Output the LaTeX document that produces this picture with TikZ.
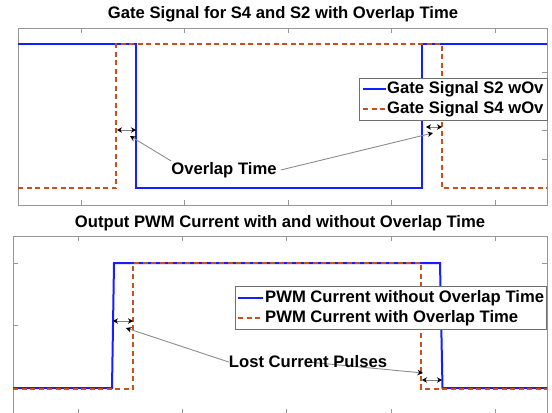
\documentclass[tikz,border=0pt]{standalone}
\usepackage{fontspec}
\setmainfont{Liberation Sans}
\usetikzlibrary{arrows.meta}
\definecolor{sigblue}{RGB}{20,30,255}
\definecolor{sigred}{RGB}{200,80,30}
\definecolor{axgray}{RGB}{150,150,150}
\definecolor{lgdgray}{RGB}{110,110,110}
\begin{document}
\begin{tikzpicture}[x=1bp,y=-1bp,
  axbox/.style={draw=axgray, line width=0.8bp},
  s2/.style={sigblue, line width=2bp},
  s4/.style={sigred, line width=2bp, dash pattern=on 5bp off 3.5bp},
  lgd/.style={draw=lgdgray, fill=white, line width=0.9bp},
  lbl/.style={font=\fontsize{16.7}{19}\selectfont\bfseries, inner sep=0pt},
  gap/.style={draw=gray, line width=0.9bp,
    {Stealth[black,length=5bp,width=5.5bp]}-{Stealth[black,length=5bp,width=5.5bp]}},
  ptr/.style={draw=gray!90, line width=0.9bp, -{Stealth[black,length=5.5bp,width=5.5bp]}}]
\useasboundingbox (0,0) rectangle (552,412);
\clip (0,0) rectangle (552,412);

% ---------- upper axes: gate signals ----------
\draw[axbox] (18,28) rectangle (547,205);
\foreach \x in {81,184.5,288,391.5,495} {
  \draw[axbox] (\x,28) -- ++(0,5);
  \draw[axbox] (\x,205) -- ++(0,-5);
}
\foreach \y in {72.8,101.6,130.4,159.2} \draw[axbox] (547,\y) -- ++(-5,0);

\draw[s2] (18,44) -- (136,44) -- (136,188) -- (422,188) -- (422,44) -- (547,44);
\draw[s4] (18,188) -- (116,188) -- (116,44) -- (442,44) -- (442,188) -- (547,188);

\node[lbl] (t1) at (283,14) {Gate Signal for S4 and S2 with Overlap Time};

\node[lgd, anchor=north west, minimum width=188bp, minimum height=42bp, inner sep=0pt] (leg1) at (359,78) {};
\draw[s2] (363,89) -- (386,89);
\draw[s4] (363,109) -- (386,109);
\node[lbl, anchor=west] (leg1a) at (387,89) {Gate Signal S2 wOv};
\node[lbl, anchor=west] (leg1b) at (387,109) {Gate Signal S4 wOv};

% overlap intervals
\coordinate (ova) at (117,130);
\coordinate (ovb) at (136,130);
\coordinate (ovc) at (426,127);
\coordinate (ovd) at (442,127);
\draw[gap] (ova) -- (ovb);
\draw[gap] (ovc) -- (ovd);
\coordinate (ovp1) at (130,136);
\coordinate (ovp2) at (433,133);
\node[lbl] (ovl) at (224,170) {Overlap Time};
\draw[ptr] ([yshift=1bp]ovl.north west) -- (ovp1);
\draw[ptr] ([xshift=4bp]ovl.east) -- (ovp2);

% ---------- lower axes: output current ----------
\draw[axbox] (13,236) rectangle (547,414);
\foreach \x in {78,182,286,391,495} {
  \draw[axbox] (\x,236) -- ++(0,5);
  \draw[axbox] (\x,414) -- ++(0,-5);
}
\foreach \y in {263,325.5} {
  \draw[axbox] (13,\y) -- ++(5,0);
  \draw[axbox] (547,\y) -- ++(-5,0);
}

\draw[s2] (13,388) -- (112,388) -- (114,263) -- (440,263) -- (442.5,388) -- (547,388);
\draw[s4] (13,388.5) -- (133,388.5) -- (133,263) -- (421,263) -- (421,388.5) -- (547,388.5);

\node[lbl] (t2) at (280,223) {Output PWM Current with and without Overlap Time};

\node[lgd, anchor=north west, minimum width=311bp, minimum height=43bp, inner sep=0pt] (leg2) at (235,286) {};
\draw[s2] (238,298) -- (263,298);
\draw[s4] (238,318) -- (263,318);
\node[lbl, anchor=west] (leg2a) at (265,298) {PWM Current without Overlap Time};
\node[lbl, anchor=west] (leg2b) at (265,318) {PWM Current with Overlap Time};

% lost pulse intervals
\coordinate (lpa) at (113,321);
\coordinate (lpb) at (133,321);
\coordinate (lpc) at (422,380);
\coordinate (lpd) at (442,380);
\draw[gap] (lpa) -- (lpb);
\draw[gap] (lpc) -- (lpd);
\coordinate (lpp1) at (126,328);
\coordinate (lpp2) at (423,373);
\coordinate (lostc) at (308,362);
\draw[ptr] (lostc) -- (lpp2);
\node[lbl] (lost) at (lostc) {Lost Current Pulses};
\draw[ptr] (lost.west) -- (lpp1);
\end{tikzpicture}
\end{document}
